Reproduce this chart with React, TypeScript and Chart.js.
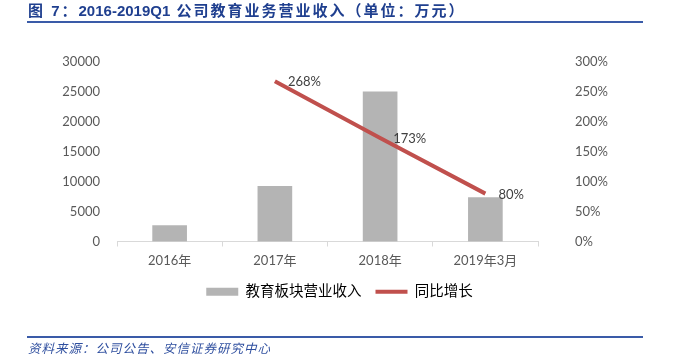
import React, { useEffect, useRef } from "react";
import { Chart, registerables } from "chart.js";

Chart.register(...registerables);

const categories = ["2016年", "2017年", "2018年", "2019年3月"];
const revenue = [2650, 9200, 25000, 7350];
const growth: (number | null)[] = [null, 268, 173, 80];
const revenueLabel = "教育板块营业收入";
const growthLabel = "同比增长";

const FONT = "Lato, 'Noto Sans CJK SC', sans-serif";
const CJK = "'Liberation Sans', 'Noto Sans CJK SC', sans-serif";

const pointLabels = {
  id: "pointLabels",
  afterDatasetsDraw(chart: any) {
    const ctx = chart.ctx;
    const meta = chart.getDatasetMeta(1);
    ctx.save();
    ctx.font = `13px ${FONT}`;
    ctx.fillStyle = "#404040";
    ctx.textAlign = "left";
    ctx.textBaseline = "middle";
    meta.data.forEach((pt: any, i: number) => {
      const v = growth[i];
      if (v == null) return;
      ctx.fillText(`${v}%`, pt.x + 13, pt.y + 1);
    });
    ctx.restore();
  },
};

export default function App() {
  const ref = useRef<HTMLCanvasElement>(null);
  useEffect(() => {
    if (!ref.current) return;
    const chart = new Chart(ref.current, {
      type: "bar",
      data: {
        labels: categories,
        datasets: [
          {
            type: "bar",
            label: revenueLabel,
            data: revenue,
            backgroundColor: "#B4B4B4",
            yAxisID: "y",
            barThickness: 34,
            order: 2,
          },
          {
            type: "line",
            label: growthLabel,
            data: growth,
            borderColor: "#C0504D",
            backgroundColor: "#C0504D",
            borderWidth: 4,
            pointRadius: 0,
            yAxisID: "y1",
            order: 1,
          } as any,
        ],
      },
      options: {
        animation: false,
        responsive: false,
        maintainAspectRatio: false,
        layout: { padding: { top: 62, bottom: 48, left: 2, right: 0 } },
        plugins: {
          tooltip: { enabled: false },
          legend: {
            position: "bottom",
            labels: {
              usePointStyle: true,
              pointStyleWidth: 32,
              boxHeight: 8,
              padding: 14,
              color: "#595959",
              font: { size: 14.5, family: FONT },
              generateLabels: () => [
                {
                  text: revenueLabel,
                  fillStyle: "#B4B4B4",
                  strokeStyle: "#B4B4B4",
                  lineWidth: 0,
                  pointStyle: "rect",
                  datasetIndex: 0,
                } as any,
                {
                  text: growthLabel,
                  fillStyle: "#C0504D",
                  strokeStyle: "#C0504D",
                  lineWidth: 4,
                  pointStyle: "line",
                  datasetIndex: 1,
                } as any,
              ],
            },
          },
        },
        scales: {
          x: {
            grid: {
              drawOnChartArea: false,
              drawTicks: true,
              tickLength: 5,
              color: "#D9D9D9",
              offset: true,
            },
            border: { color: "#D9D9D9" },
            ticks: { color: "#595959", font: { size: 13, family: FONT }, padding: 7 },
            afterFit: (s: any) => {
              s.height = 29;
            },
          },
          y: {
            position: "left",
            min: 0,
            max: 30000,
            ticks: {
              stepSize: 5000,
              color: "#595959",
              font: { size: 13, family: FONT },
              padding: 17,
              callback: (v: any) => String(v),
            },
            grid: { display: false, drawTicks: false },
            border: { display: false },
            afterFit: (s: any) => {
              s.width = 115;
            },
          },
          y1: {
            position: "right",
            min: 0,
            max: 300,
            ticks: {
              stepSize: 50,
              color: "#595959",
              font: { size: 13, family: FONT },
              padding: 37,
              callback: (v: any) => `${v}%`,
            },
            grid: { display: false, drawTicks: false },
            border: { display: false },
            afterFit: (s: any) => {
              s.width = 139;
            },
          },
        },
      },
      plugins: [pointLabels],
    });
    return () => chart.destroy();
  }, []);

  return (
    <div style={{ position: "absolute", left: 0, top: 0, width: 677, height: 357, background: "#fff", overflow: "hidden" }}>
      <canvas ref={ref} width={677} height={357} style={{ position: "absolute", left: 0, top: 0, width: 677, height: 357 }} />
      <div
        style={{
          position: "absolute",
          left: 28,
          top: 3,
          font: `bold 15px ${CJK}`,
          lineHeight: "16px",
          color: "#1F3F8F",
          whiteSpace: "nowrap",
          letterSpacing: "2px",
        }}
      >
        图 7：<span style={{ letterSpacing: 0 }}>2016-2019Q1</span> 公司教育业务营业收入（单位：万元）
      </div>
      <div style={{ position: "absolute", left: 27, top: 21, width: 616, height: 2, background: "#3A5BA8" }} />
      <div style={{ position: "absolute", left: 27, top: 336, width: 616, height: 2, background: "#3A5BA8" }} />
      <div
        style={{
          position: "absolute",
          left: 28,
          top: 340,
          font: `italic 12.5px 'Noto Sans CJK SC', sans-serif`,
          lineHeight: "15px",
          color: "#2F4F9F",
          whiteSpace: "nowrap",
          letterSpacing: "1px",
        }}
      >
        资料来源：公司公告、安信证券研究中心
      </div>
    </div>
  );
}
